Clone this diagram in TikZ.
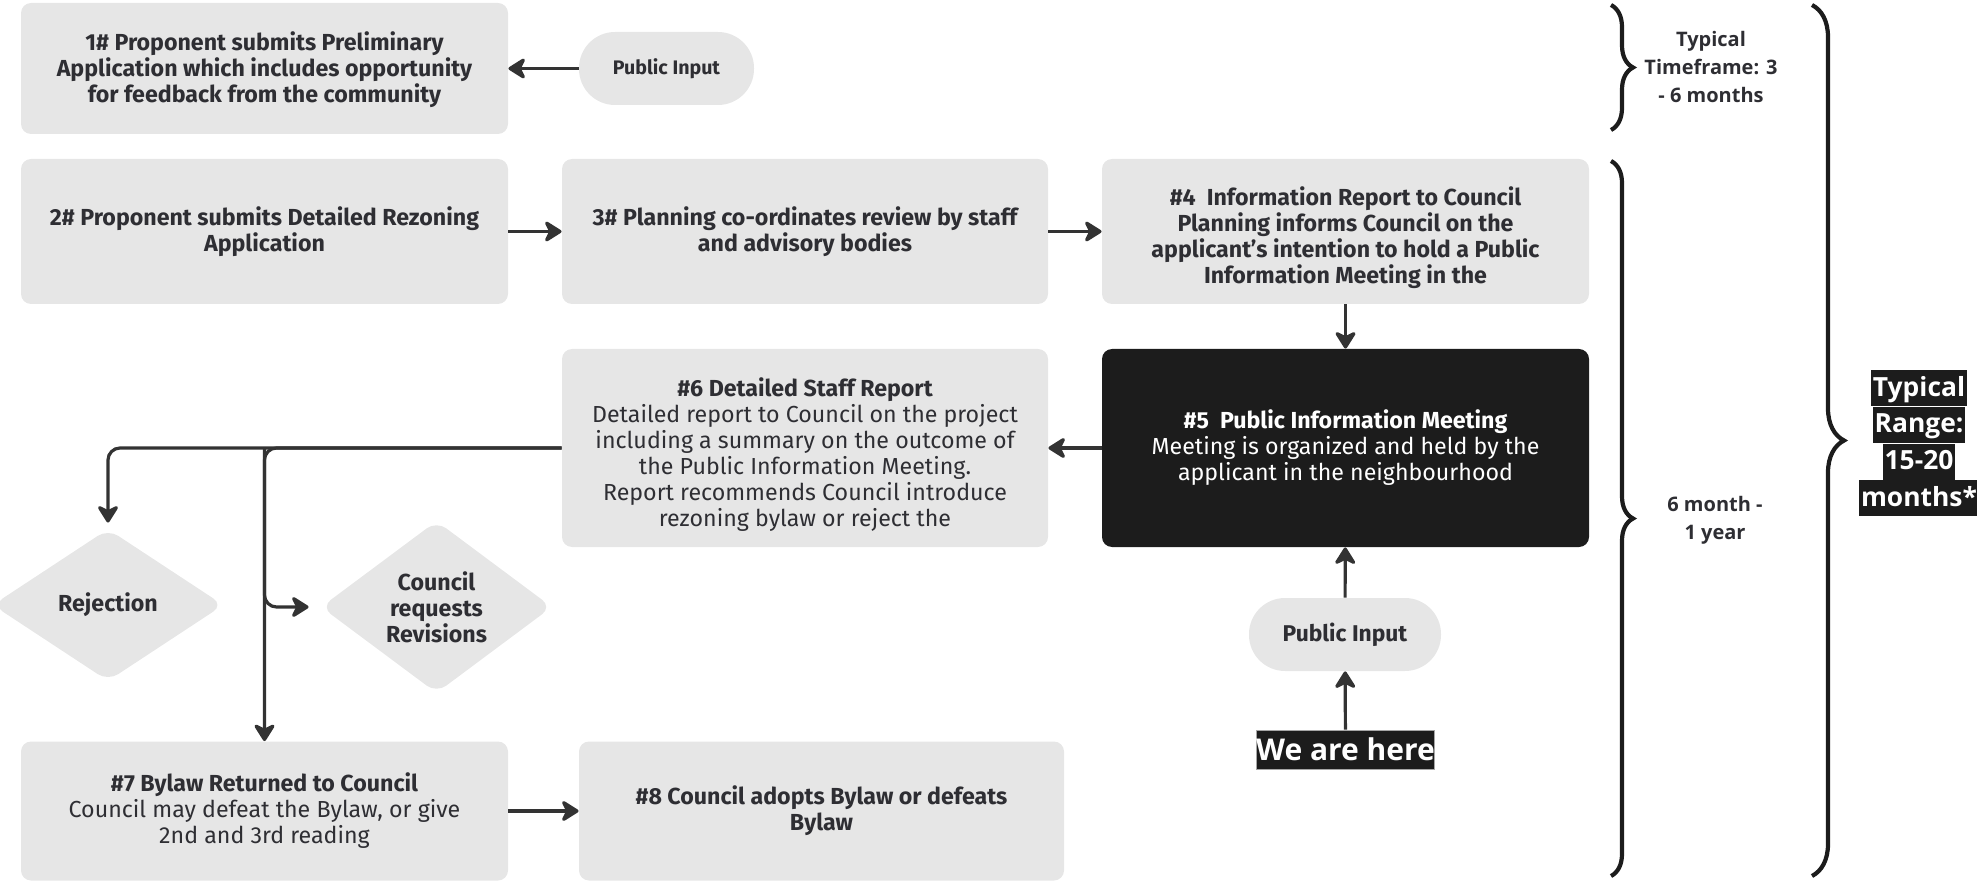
\documentclass[tikz,border=0pt]{standalone}
\usepackage{fontspec}
\setmainfont{Fira Sans}
\newfontfamily\osans{Open Sans}
\usetikzlibrary{arrows.meta,shapes.geometric,decorations.pathreplacing,calc}
\definecolor{boxgray}{HTML}{E6E6E6}
\definecolor{ink}{HTML}{2E2E33}
\definecolor{arrowc}{HTML}{333333}
\definecolor{blk}{HTML}{1C1C1C}
\tikzset{
  box/.style={rectangle, rounded corners=5pt, fill=boxgray, text=ink, align=center,
    inner sep=0pt, minimum width=243.5pt, font=\fontsize{11.6}{13}\selectfont},
  boldbox/.style={box, font=\fontsize{11.6}{13}\selectfont\bfseries},
  darkbox/.style={box, fill=blk, text=white},
  pill/.style={rectangle, rounded corners=18pt, fill=boxgray, text=ink, inner sep=0pt,
    minimum height=36.5pt, font=\bfseries},
  dia/.style={diamond, rounded corners=6pt, fill=boxgray, text=ink, align=center, inner sep=0pt,
    minimum width=115.5pt, minimum height=76pt, font=\fontsize{11.6}{13}\selectfont\bfseries},
  arr/.style={draw=arrowc, line width=1.6pt, line join=round,
    -{Stealth[length=10pt,width=12.5pt,inset=3pt,round]}},
  brc/.style={draw=blk, line width=2.1pt, decorate},
  side/.style={text=ink, align=center, font=\osans\bfseries\fontsize{10}{13.9}\selectfont},
  hl/.style={fill=blk, text=white, inner xsep=1pt, inner ysep=0pt, text height=13pt, text depth=5pt,
    font=\osans\bfseries\fontsize{13.2}{18}\selectfont}
}
\begin{document}
\begin{tikzpicture}[x=0.5pt,y=-0.5pt]
\useasboundingbox (0,0) rectangle (1977,882);
% boxes
\node[boldbox, minimum height=65.5pt] (b1) at (264.5,68.5)
  {\rule{0pt}{11pt}1\# Proponent submits Preliminary\\Application which includes opportunity\\for feedback from the community};
\node[pill, minimum width=87.5pt, font=\fontsize{9.8}{11}\selectfont\bfseries] (p1) at (666.5,68.5) {Public Input};
\node[boldbox, minimum height=72.5pt] (b2) at (264.5,231.5)
  {2\# Proponent submits Detailed Rezoning\\Application};
\node[boldbox, minimum width=243pt, minimum height=72.5pt] (b3) at (805,231.5)
  {3\# Planning co-ordinates review by staff\\and advisory bodies};
\node[boldbox, minimum height=72.5pt] (b4) at (1345.5,231.5)
  {\rule{0pt}{16pt}\#4~~Information Report to Council\\Planning informs Council on the\\applicant's intention to hold a Public\\Information Meeting in the};
\node[darkbox, minimum height=99pt] (b5) at (1345.5,448)
  {{\bfseries \#5~~Public Information Meeting}\\Meeting is organized and held by the\\applicant in the neighbourhood};
\node[box, minimum width=243pt, minimum height=99pt] (b6) at (805,448)
  {\rule{0pt}{16pt}{\bfseries \#6 Detailed Staff Report}\\Detailed report to Council on the project\\including a summary on the outcome of\\the Public Information Meeting.\\Report recommends Council introduce\\rezoning bylaw or reject the};
\node[dia] (rej) at (108,605) {Rejection};
\node[dia] (rev) at (436.5,607) {Council\\requests\\Revisions};
\node[pill, minimum width=96pt, font=\fontsize{11.4}{12}\selectfont\bfseries] (p2) at (1345,634.5) {Public Input};
\node[fill=blk, draw=gray!70, line width=0.4pt, text=white, inner xsep=0pt, inner ysep=0pt,
  minimum width=88.5pt, minimum height=19.5pt, font=\osans\bfseries\fontsize{15}{18}\selectfont] (here) at (1345.5,749.5) {We are here};
\node[box, minimum height=69.5pt] (b7) at (264.5,811)
  {{\bfseries \#7 Bylaw Returned to Council}\\Council may defeat the Bylaw, or give\\2nd and 3rd reading};
\node[boldbox, minimum width=242.5pt, minimum height=69.5pt] (b8) at (821.5,811)
  {\#8 Council adopts Bylaw or defeats\\Bylaw};
% connectors
\draw[arr] (p1) -- (b1);
\draw[arr] (b2) -- (b3);
\draw[arr] (b3) -- (b4);
\draw[arr] (b4) -- (b5);
\draw[arr] (b5) -- (b6);
\draw[arr] (p2) -- (b5);
\draw[arr] (here) -- (p2);
\draw[arr] (b7) -- (b8);
\draw[arr, rounded corners=6pt] (b6.west) -| ([yshift=3pt]rej.north);
\draw[arr, rounded corners=6pt] (b6.west) -| (b7.north);
\draw[arr, rounded corners=6pt] (b7.north |- b6.west) |- ([xshift=-6pt]rev.west);
% braces
\coordinate (t1) at (1611,5); \coordinate (u1) at (1611,130);
\coordinate (t2) at (1611,161); \coordinate (u2) at (1611,876);
\coordinate (t3) at (1812,5); \coordinate (u3) at (1812,876);
\draw[brc, decoration={brace, amplitude=11pt}] (t1) -- (u1);
\draw[brc, decoration={brace, amplitude=11pt}] (t2) -- (u2);
\draw[brc, decoration={brace, amplitude=16pt}] (t3) -- (u3);
\node[side] (s1) at (1711,67) {Typical\\Timeframe: 3\\- 6 months};
\node[side] (s2) at (1715,520) {6 month -\\1 year};
\node[hl] (r1) at (1919,388) {Typical };
\node[hl, anchor=north] (r2) at (r1.south) {Range:};
\node[hl, anchor=north] (r3) at (r2.south) {15-20};
\node[hl, anchor=north] (r4) at (r3.south) {months*};
\end{tikzpicture}
\end{document}
